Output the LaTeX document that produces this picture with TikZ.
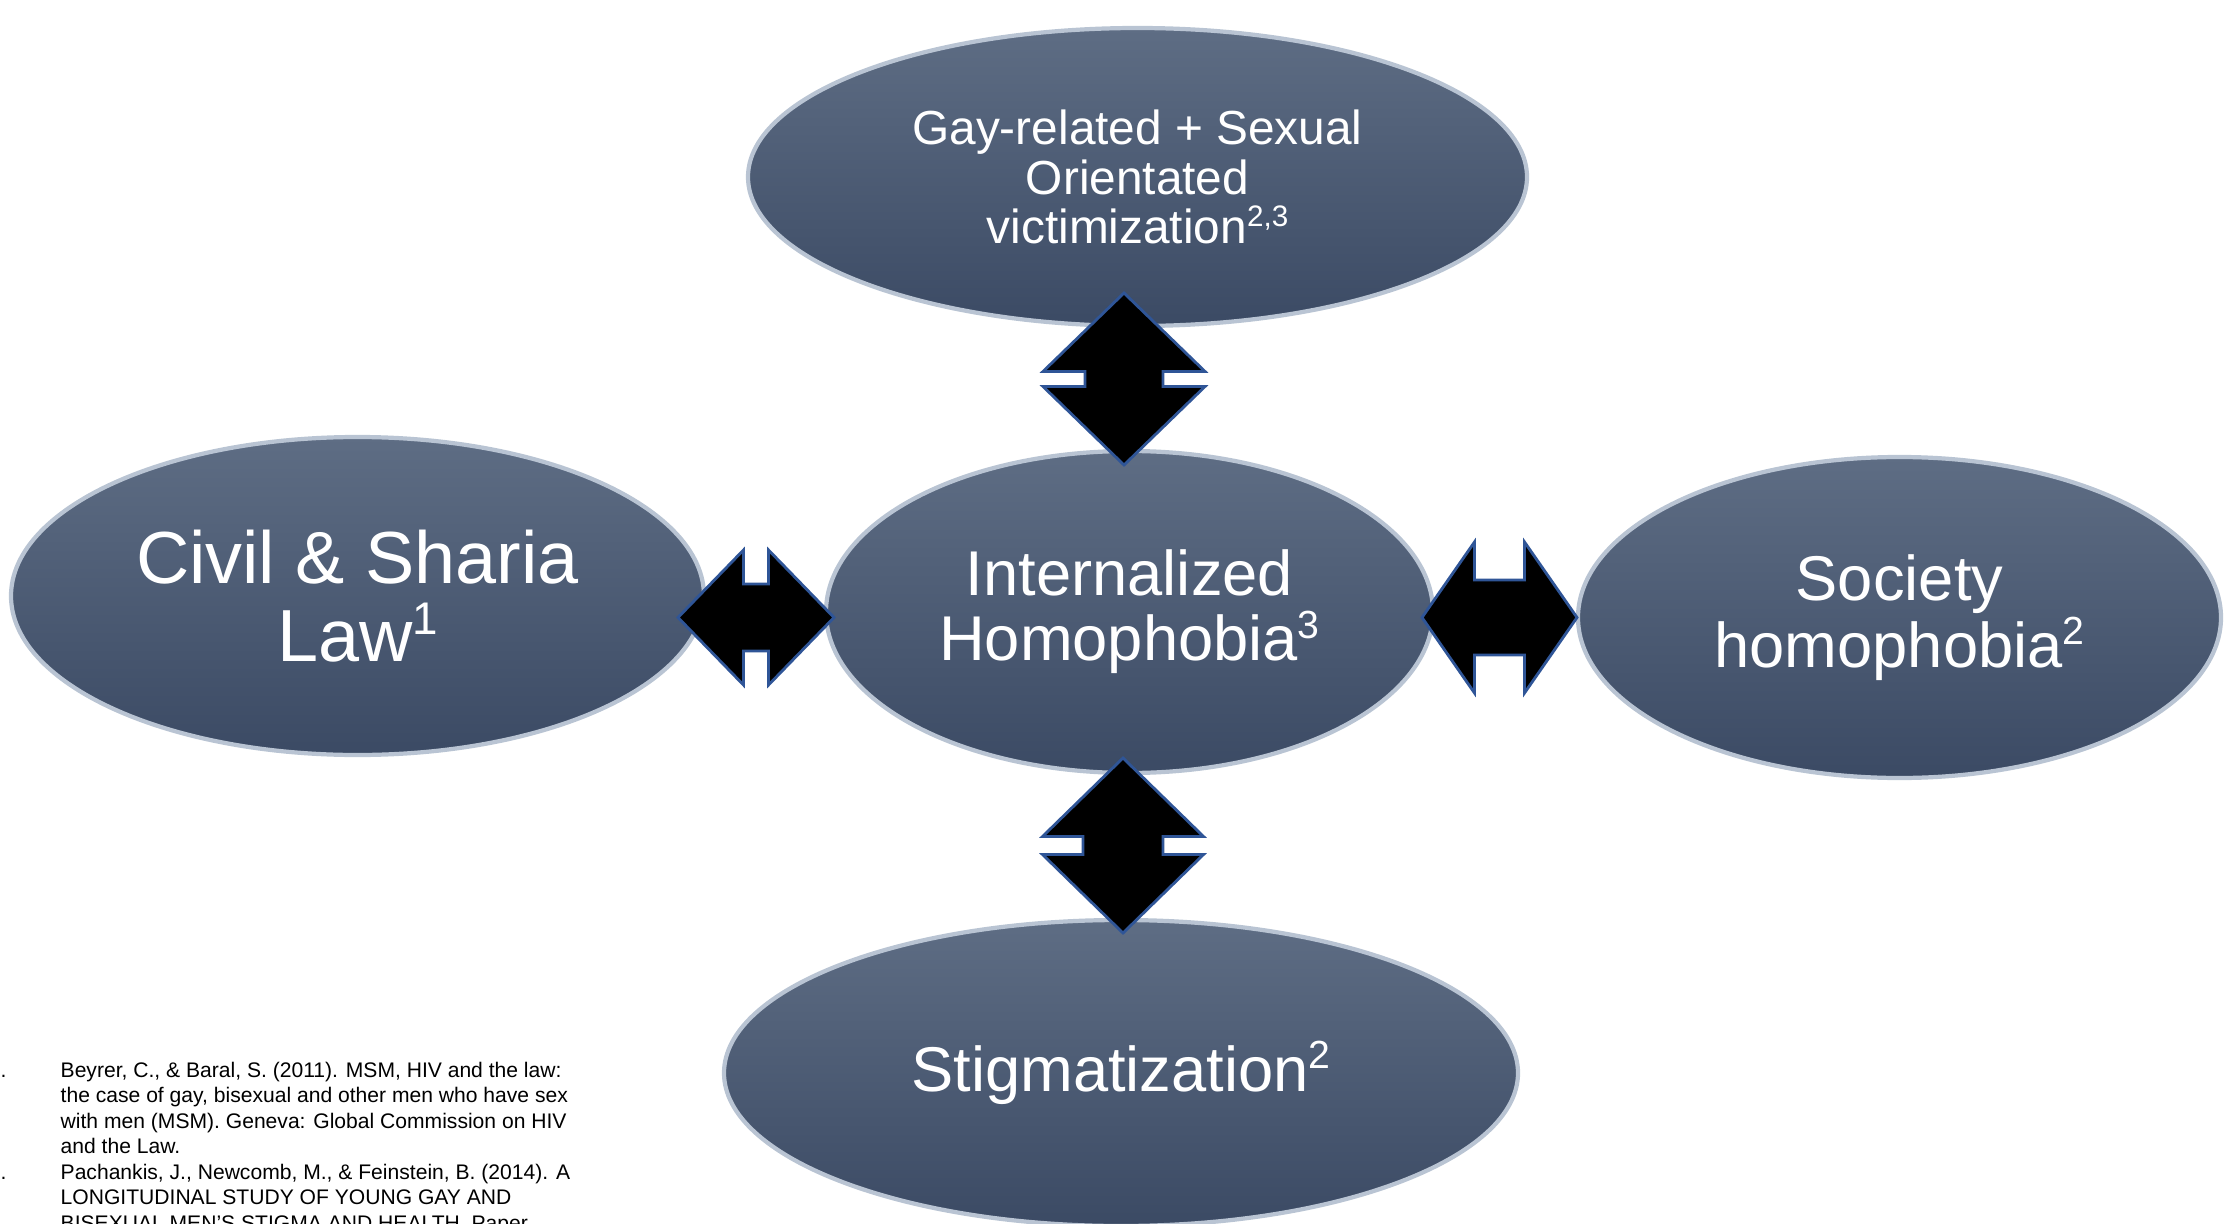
\documentclass[tikz,border=0pt]{standalone}
\usepackage{fontspec}
\usepackage{graphicx}
\setmainfont{Liberation Sans}
\usetikzlibrary{shapes.geometric, positioning, calc}

\definecolor{ovaltop}{HTML}{5E6D84}
\definecolor{ovalbot}{HTML}{3B4A64}
\definecolor{ovalrim}{HTML}{B9C4D3}
\definecolor{arrline}{HTML}{2F5597}

% small raised reference number
\newcommand{\refsup}[1]{\raisebox{0.36em}{\scalebox{0.62}{#1}}}

% double-headed block arrow: centre, angle, half length, half head width, half shaft width, half neck
\newcommand{\dblarrow}[6]{%
  \draw[dblarr, shift={(#1)}, rotate=#2]
    (-#3,0) -- (-#6,#4) -- (-#6,#5) -- (#6,#5) -- (#6,#4) -- (#3,0)
    -- (#6,-#4) -- (#6,-#5) -- (-#6,-#5) -- (-#6,-#4) -- cycle;}

\begin{document}
\begin{tikzpicture}[
    oval/.style={ellipse, inner sep=0pt, top color=ovaltop, bottom color=ovalbot, draw=ovalrim, line width=1.2pt, text=white, align=center},
    dblarr/.style={fill=black, draw=arrline, line width=0.8pt, line join=miter},
    reftext/.style={inner sep=0pt, font=\fontsize{6}{7.25}\selectfont, align=left}
]
    \useasboundingbox (0,0) rectangle (22.25,-12.24);

    % Ovals
    \node[oval, minimum width=7.79cm, minimum height=2.98cm, font=\fontsize{13.6}{14.2}\selectfont] (victim) at (11.375,-1.77) {Gay-related + Sexual\\Orientated\\victimization\refsup{2,3}};
    \node[oval, minimum width=6.07cm, minimum height=3.22cm, font=\fontsize{18}{18.5}\selectfont] (internal) at (11.295,-6.12) {Internalized\\Homophobia\refsup{3}};
    \node[oval, minimum width=6.93cm, minimum height=3.18cm, font=\fontsize{21}{22.2}\selectfont] (law) at (3.575,-5.96) {Civil \& Sharia\\Law\refsup{1}};
    \node[oval, minimum width=6.43cm, minimum height=3.21cm, font=\fontsize{18}{19}\selectfont] (society) at (18.995,-6.175) {Society\\homophobia\refsup{2}};
    \node[oval, minimum width=7.94cm, minimum height=3.06cm, font=\fontsize{18}{19}\selectfont] (stigma) at (11.21,-10.73) {Stigmatization\refsup{2}};

    % Arrows
    \coordinate (upc) at (11.24,-3.79);
    \coordinate (downc) at (11.23,-8.455);
    \coordinate (leftc) at (7.56,-6.175);
    \coordinate (rightc) at (14.995,-6.175);
    \dblarrow{upc}{90}{0.86}{0.81}{0.39}{0.075}
    \dblarrow{downc}{90}{0.875}{0.805}{0.40}{0.09}
    \dblarrow{leftc}{0}{0.78}{0.675}{0.335}{0.125}
    \dblarrow{rightc}{0}{0.775}{0.755}{0.375}{0.25}

    % References
    \node[reftext, anchor=base west] (refs) at (0.60,-12.30) {Beyrer, C., \& Baral, S. (2011). MSM, HIV and the law:\\the case of gay, bisexual and other men who have sex\\with men (MSM). Geneva: Global Commission on HIV\\and the Law.\\Pachankis, J., Newcomb, M., \& Feinstein, B. (2014). A\\LONGITUDINAL STUDY OF YOUNG GAY AND\\BISEXUAL MEN'S STIGMA AND HEALTH. Paper};
    \node[reftext, anchor=base west] (dot1) at (0,-10.77) {.};
    \node[reftext, anchor=base west] (dot2) at (0,-11.79) {.};
\end{tikzpicture}
\end{document}
